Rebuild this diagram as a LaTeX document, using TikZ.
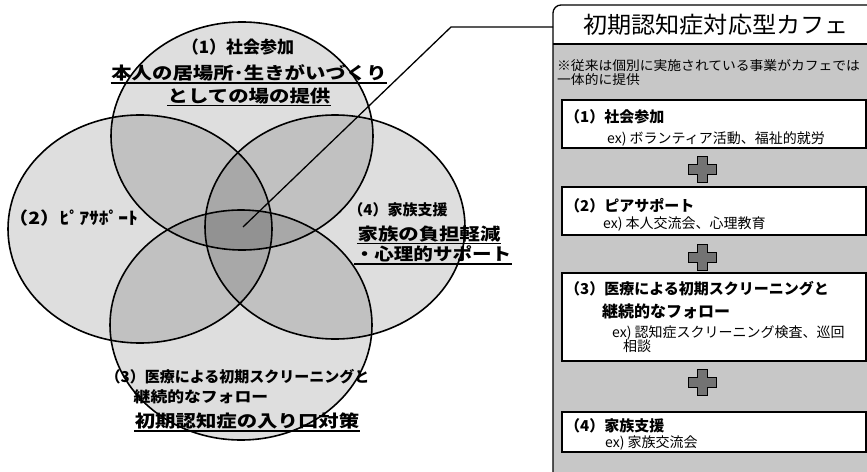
\documentclass[tikz,border=0pt]{standalone}
\usepackage{fontspec}
\usepackage{graphicx}
\setmainfont{Noto Sans CJK JP}
\newcommand{\hs}[2]{\scalebox{#1}[1]{#2}}
\begin{document}
\begin{tikzpicture}[x=1pt,y=-1pt,
  venn/.style={fill=black, fill opacity=0.13},
  vennline/.style={draw=black, line width=1.6pt},
  vl/.style={font=\bfseries\fontsize{17}{19}\selectfont, inner sep=0.5pt},
  ul/.style={line width=1.3pt},
  conn/.style={line width=1.3pt},
  panelbg/.style={fill=black!22},
  frame/.style={line width=1.3pt},
  itembox/.style={draw=black, line width=1.3pt, fill=white},
  head/.style={font=\bfseries\fontsize{15}{17}\selectfont, anchor=west, inner sep=0pt},
  ex/.style={font=\fontsize{14}{16}\selectfont, anchor=west, inner sep=0pt},
  note/.style={font=\fontsize{13}{15}\selectfont, anchor=west, inner sep=0pt},
  plusst/.style={fill=black!55, draw=black, line width=0.8pt},
  pluspic/.pic={\path[plusst] (-5,-13) -- (5,-13) -- (5,-5) -- (14,-5) -- (14,5) -- (5,5) -- (5,13) -- (-5,13) -- (-5,5) -- (-14,5) -- (-14,-5) -- (-5,-5) -- cycle;}
]
\useasboundingbox (0,0) rectangle (867,471);
\clip (0,0) rectangle (867,471);

% Venn fills
\path[venn] (242,136) ellipse [x radius=131, y radius=114];
\path[venn] (140,229) ellipse [x radius=132, y radius=114];
\path[venn] (335,227) ellipse [x radius=130, y radius=112];
\path[venn] (241,325) ellipse [x radius=131, y radius=115];
% Venn outlines
\draw[vennline] (242,136) ellipse [x radius=131, y radius=114];
\draw[vennline] (140,229) ellipse [x radius=132, y radius=114];
\draw[vennline] (335,227) ellipse [x radius=130, y radius=112];
\draw[vennline] (241,325) ellipse [x radius=131, y radius=115];

% Venn labels
\node[vl] (v1a) at (238,47) {\hs{1.0}{（1）社会参加}};
\node[vl] (v1b) at (249,73) {\hs{1.2}{本人の居場所･生きがいづくり}};
\node[vl] (v1c) at (249,96) {\hs{1.2}{としての場の提供}};
\draw[ul] ([yshift=-1pt]v1b.south west) -- ([yshift=-1pt]v1b.south east);
\draw[ul] ([yshift=-1pt]v1c.south west) -- ([yshift=-1pt]v1c.south east);

\node[vl, anchor=west] (v2) at (8,218) {\hs{1.15}{（2）ﾋﾟｱｻﾎﾟｰﾄ}};

\node[vl, font=\bfseries\fontsize{15}{17}\selectfont] (v4a) at (398,210) {\hs{1.0}{（4）家族支援}};
\node[vl] (v4b) at (429,234) {\hs{1.2}{家族の負担軽減}};
\node[vl] (v4c) at (433,254) {\hs{1.15}{・心理的サポート}};
\draw[ul] ([yshift=-1pt]v4b.south west) -- ([yshift=-1pt]v4b.south east);
\draw[ul] ([yshift=-1pt]v4c.south west) -- ([yshift=-1pt]v4c.south east);

\node[vl, anchor=west, font=\bfseries\fontsize{15}{17}\selectfont] (v3a) at (105,377) {（3）医療による初期スクリーニングと};
\node[vl, anchor=west, font=\bfseries\fontsize{15}{17}\selectfont] (v3b) at (133,397) {\hs{1.12}{継続的なフォロー}};
\node[vl] (v3c) at (247,421) {\hs{1.2}{初期認知症の入り口対策}};
\draw[ul] ([yshift=-1pt]v3c.south west) -- ([yshift=-1pt]v3c.south east);

% Right panel
\fill[panelbg] (553,44) rectangle (880,480);
\fill[white, rounded corners=8pt] (553,44) -- (553,5) -- (880,5) -- (880,44) -- cycle;
\draw[frame, rounded corners=8pt] (553,480) -- (553,5) -- (880,5);
\draw[frame] (553,44) -- (880,44);
\node[font=\fontsize{23}{26}\selectfont, inner sep=0pt] (title) at (716,25) {\hs{1.05}{初期認知症対応型カフェ}};
\coordinate (pw) at (553,27);

\node[note] (n1) at (557,66) {\hs{1.06}{※従来は個別に実施されている事業がカフェでは}};
\node[note] (n2) at (557,80) {\hs{1.06}{一体的に提供}};

% item boxes
\draw[itembox] (562,100) rectangle (866,148);
\node[head] (h1) at (565,117) {（1）社会参加};
\node[ex] (e1) at (607,139) {ex) ボランティア活動、福祉的就労};

\pic at (702,169) {pluspic};

\draw[itembox] (562,187) rectangle (866,235);
\node[head] (h2) at (565,206) {（2）ピアサポート};
\node[ex] (e2) at (603,224) {ex) 本人交流会、心理教育};

\pic at (702,257) {pluspic};

\draw[itembox] (562,273) rectangle (866,361);
\node[head] (h3) at (565,289) {（3）医療による初期スクリーニングと};
\node[head, font=\bfseries\fontsize{16}{18}\selectfont] (h3b) at (602,311) {継続的なフォロー};
\node[ex] (e3) at (612,333) {ex) 認知症スクリーニング検査、巡回};
\node[ex] (e3b) at (623,346) {相談};

\pic at (702,382) {pluspic};

\draw[itembox] (562,412) rectangle (866,452);
\node[head] (h4) at (565,426) {（4）家族支援};
\node[ex] (e4) at (605,443) {ex) 家族交流会};

% connector
\coordinate (vc) at (243,227);
\coordinate (bend) at (451,27);
\draw[conn] (vc) -- (bend) -- (pw);
\end{tikzpicture}
\end{document}
